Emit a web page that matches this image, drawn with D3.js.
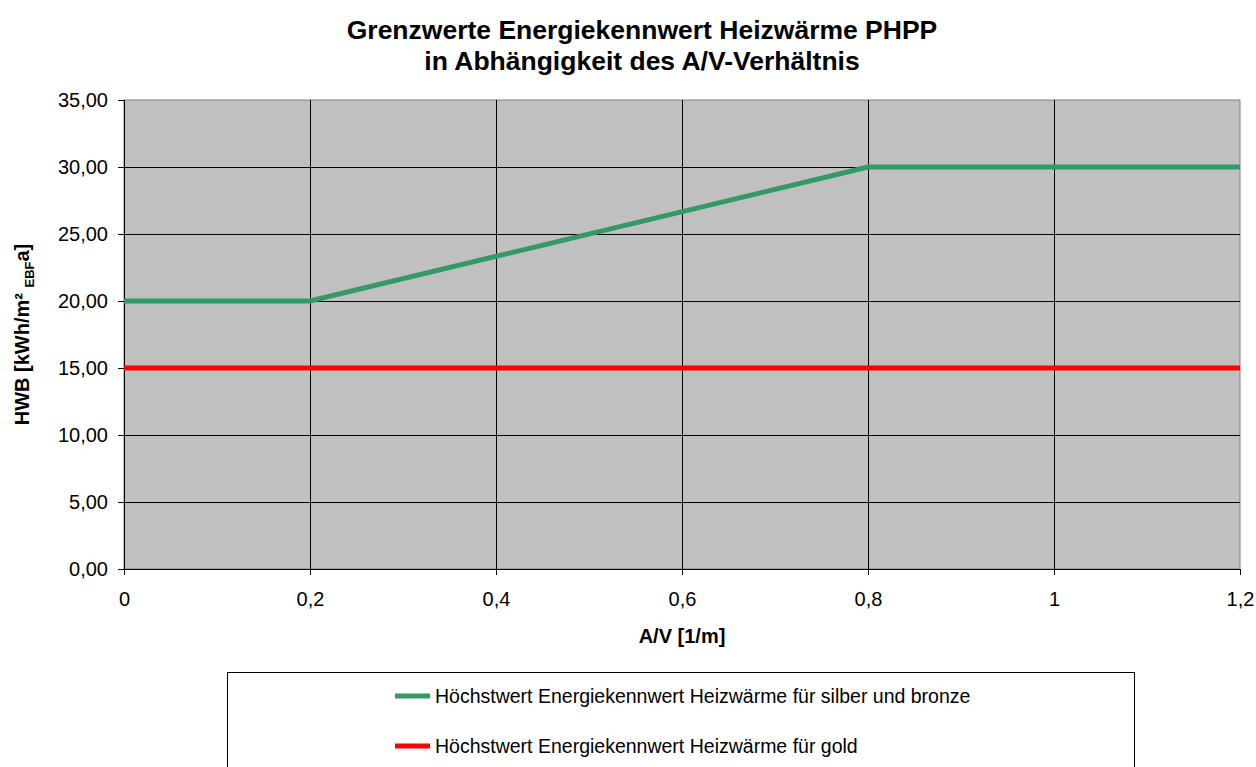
<!DOCTYPE html>
<html>
<head>
<meta charset="utf-8">
<script src="https://cdn.jsdelivr.net/npm/d3@7"></script>
<style>
  body { margin: 0; background: #fff; }
  svg { font-family: "Liberation Sans", Arial, sans-serif; }
</style>
</head>
<body>
<div id="chart"></div>
<script>
// A/V values and limits
const avSilber = [0, 0.2, 0.8, 1.2];
const hwbSilber = [20, 20, 30, 30];
const avGold = [0, 1.2];
const hwbGold = [15, 15];

const xTicks = [0, 0.2, 0.4, 0.6, 0.8, 1, 1.2];
const yTicks = [0, 5, 10, 15, 20, 25, 30, 35];

const seriesNames = [
  "Höchstwert Energiekennwert Heizwärme für silber und bronze",
  "Höchstwert Energiekennwert Heizwärme für gold"
];
const seriesColors = ["#339966", "#ff0000"];

const width = 1256, height = 767;
const margin = { top: 100, right: 16, bottom: 198, left: 124 };
const font = "'Liberation Sans', Arial, sans-serif";

const svg = d3.select("#chart")
  .append("svg")
  .attr("width", width)
  .attr("height", height);

const x = d3.scaleLinear().domain([0, 1.2]).range([margin.left, width - margin.right]);
const y = d3.scaleLinear().domain([0, 35]).range([height - margin.bottom, margin.top]);

const fmtComma = d => d3.format(".2f")(d).replace(".", ",");
const fmtX = d => String(d).replace(".", ",");

// plot background
svg.append("rect")
  .attr("x", x(0))
  .attr("y", y(35))
  .attr("width", x(1.2) - x(0))
  .attr("height", y(0) - y(35))
  .attr("fill", "#c0c0c0")
  .attr("stroke", "#808080")
  .attr("stroke-width", 1);

// gridlines
svg.append("g")
  .selectAll("line")
  .data(yTicks.filter(d => d > 0 && d < 35))
  .join("line")
  .attr("x1", x(0)).attr("x2", x(1.2))
  .attr("y1", d => Math.round(y(d)) + 0.5).attr("y2", d => Math.round(y(d)) + 0.5)
  .attr("stroke", "#000")
  .attr("stroke-width", 1);

svg.append("g")
  .selectAll("line")
  .data(xTicks.filter(d => d > 0 && d < 1.2))
  .join("line")
  .attr("x1", d => Math.round(x(d)) + 0.5).attr("x2", d => Math.round(x(d)) + 0.5)
  .attr("y1", y(0)).attr("y2", y(35))
  .attr("stroke", "#000")
  .attr("stroke-width", 1);

// axes
const yAxis = svg.append("g")
  .attr("transform", `translate(${x(0)},0)`)
  .call(d3.axisLeft(y).tickValues(yTicks).tickFormat(fmtComma).tickSizeOuter(0).tickSize(6).tickPadding(10));

const xAxis = svg.append("g")
  .attr("transform", `translate(0,${y(0)})`)
  .call(d3.axisBottom(x).tickValues(xTicks).tickFormat(fmtX).tickSizeOuter(0).tickSize(6).tickPadding(17));

[xAxis, yAxis].forEach(a => {
  a.attr("font-family", font).attr("font-size", 20);
  a.select(".domain").attr("stroke", "#000");
  a.selectAll(".tick line").attr("stroke", "#000");
  a.selectAll(".tick text").attr("fill", "#000");
});

// lines
const line = d3.line().x(d => x(d[0])).y(d => y(d[1]));

svg.append("path")
  .datum(d3.zip(avGold, hwbGold))
  .attr("d", line)
  .attr("fill", "none")
  .attr("stroke", seriesColors[1])
  .attr("stroke-width", 5);

svg.append("path")
  .datum(d3.zip(avSilber, hwbSilber))
  .attr("d", line)
  .attr("fill", "none")
  .attr("stroke", seriesColors[0])
  .attr("stroke-width", 5);

// title
const title = svg.append("text")
  .attr("text-anchor", "middle")
  .attr("font-weight", "bold")
  .attr("font-size", 26.5);
title.append("tspan").attr("x", 642).attr("y", 39).text("Grenzwerte Energiekennwert Heizwärme PHPP");
title.append("tspan").attr("x", 642).attr("y", 70).text("in Abhängigkeit des A/V-Verhältnis");

// axis titles
svg.append("text")
  .attr("x", (x(0) + x(1.2)) / 2)
  .attr("y", 643)
  .attr("text-anchor", "middle")
  .attr("font-weight", "bold")
  .attr("font-size", 20)
  .text("A/V [1/m]");

const yTitle = svg.append("text")
  .attr("transform", `translate(29,${(y(0) + y(35)) / 2}) rotate(-90)`)
  .attr("text-anchor", "middle")
  .attr("font-weight", "bold")
  .attr("font-size", 20);
yTitle.append("tspan").text("HWB [kWh/m² ");
yTitle.append("tspan").attr("dy", 5).attr("font-size", 13).text("EBF");
yTitle.append("tspan").attr("dy", -5).text("a]");

// legend
const legend = svg.append("g");
legend.append("rect")
  .attr("x", 227.5)
  .attr("y", 672.5)
  .attr("width", 907)
  .attr("height", 110)
  .attr("fill", "#fff")
  .attr("stroke", "#000")
  .attr("stroke-width", 1);

const items = legend.selectAll("g.item")
  .data(seriesNames)
  .join("g")
  .attr("class", "item")
  .attr("transform", (d, i) => `translate(395,${696 + i * 50})`);

items.append("line")
  .attr("x1", 0).attr("x2", 35)
  .attr("stroke", (d, i) => seriesColors[i])
  .attr("stroke-width", 5);

items.append("text")
  .attr("x", 40)
  .attr("dy", "0.35em")
  .attr("font-size", 19.5)
  .text(d => d);
</script>
</body>
</html>
